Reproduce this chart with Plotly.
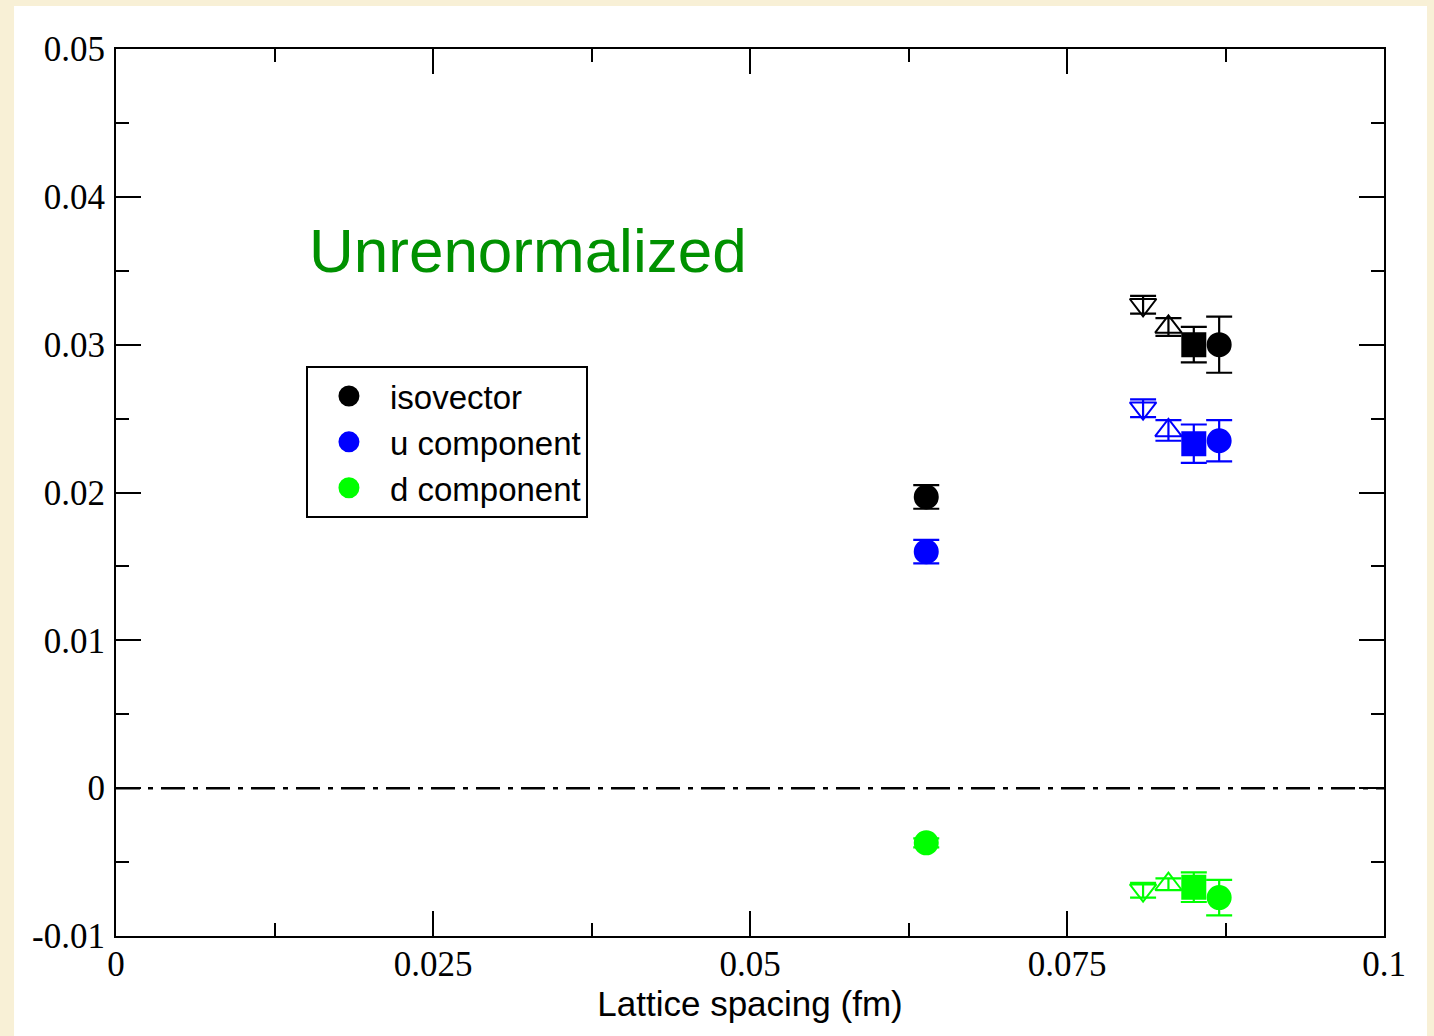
import plotly.graph_objects as go

# Lattice spacings (fm) of the ensembles and the symbol used for each
lattice_spacing = [0.0639, 0.0810, 0.0830, 0.0850, 0.0870]
ensemble_symbols = ["circle", "triangle-down-open", "triangle-up-open", "square", "circle"]

# Unrenormalized values with statistical errors
isovector = [0.0197, 0.0327, 0.0312, 0.0300, 0.0300]
isovector_err = [0.0008, 0.0006, 0.0006, 0.0012, 0.0019]

u_component = [0.0160, 0.0257, 0.0242, 0.0233, 0.0235]
u_component_err = [0.0008, 0.0006, 0.0007, 0.0013, 0.0014]

d_component = [-0.0037, -0.0069, -0.0065, -0.0067, -0.0074]
d_component_err = [0.0003, 0.0005, 0.0004, 0.0010, 0.0012]

series = [
    ("isovector", isovector, isovector_err, "#000000"),
    ("u component", u_component, u_component_err, "#0000ff"),
    ("d component", d_component, d_component_err, "#00ff00"),
]

x_range = [0, 0.1]
y_range = [-0.01, 0.05]

fig = go.Figure()

for name, vals, errs, color in series:
    fig.add_trace(go.Scatter(
        x=lattice_spacing,
        y=vals,
        mode="markers",
        name=name,
        showlegend=False,
        marker=dict(symbol=ensemble_symbols, size=23, color=color,
                    line=dict(color=color, width=2)),
        error_y=dict(type="data", array=errs, visible=True,
                     color=color, thickness=2.2, width=13),
    ))

# Legend keys: filled circles with a thick rim so they read at full size
for name, _, _, color in series:
    fig.add_trace(go.Scatter(
        x=[None], y=[None], mode="markers", name=name, showlegend=True,
        marker=dict(symbol="circle", size=16, color=color,
                    line=dict(color=color, width=5)),
    ))

# Dash-dot reference line at zero
fig.add_shape(type="line", xref="paper", x0=0, x1=1, yref="y", y0=0, y1=0,
              line=dict(color="black", width=2.5, dash="24px,8px,5px,8px"))

# White panel over the cream page
fig.add_shape(type="rect", xref="paper", yref="paper",
              x0=-0.0804, x1=1.0339, y0=-0.13, y1=1.0485,
              fillcolor="white", line=dict(width=0), layer="below")

fig.add_annotation(text="Unrenormalized", x=0.0151, y=0.0364, xref="x", yref="y",
                   xanchor="left", yanchor="middle", showarrow=False,
                   font=dict(family="Liberation Sans, Arial, sans-serif",
                             size=62, color="rgb(0,145,0)"))

axis_common = dict(
    showline=True, linecolor="black", linewidth=2, mirror="ticks",
    ticks="inside", ticklen=25, tickwidth=2, tickcolor="black",
    showgrid=False, zeroline=False,
    tickfont=dict(family="Liberation Serif, Times New Roman, serif", size=35, color="black"),
)

fig.update_xaxes(
    range=x_range, tickvals=[0, 0.025, 0.05, 0.075, 0.1],
    ticktext=["0", "0.025", "0.05", "0.075", "0.1"],
    minor=dict(ticks="inside", ticklen=13, tickwidth=2, tickcolor="black", dtick=0.0125, tick0=0),
    title=dict(text="Lattice spacing (fm)", standoff=0,
               font=dict(family="Liberation Sans, Arial, sans-serif", size=35, color="black")),
    ticklabelstandoff=-4,
    **axis_common,
)
fig.update_yaxes(
    range=y_range, tickvals=[-0.01, 0, 0.01, 0.02, 0.03, 0.04, 0.05],
    ticktext=["-0.01", "0", "0.01", "0.02", "0.03", "0.04", "0.05"],
    minor=dict(ticks="inside", ticklen=13, tickwidth=2, tickcolor="black", dtick=0.005, tick0=0),
    ticklabelstandoff=2,
    **axis_common,
)

fig.update_layout(
    width=1434, height=1036,
    margin=dict(l=116, r=50, t=49, b=100, autoexpand=False),
    paper_bgcolor="#f8f0d6",
    plot_bgcolor="white",
    showlegend=True,
    legend=dict(x=0.1498, y=0.6426, xanchor="left", yanchor="top",
                bgcolor="white", bordercolor="black", borderwidth=2,
                font=dict(family="Liberation Sans, Arial, sans-serif", size=33, color="black"),
                itemsizing="trace", itemwidth=72, tracegroupgap=0,
                entrywidth=300, entrywidthmode="pixels"),
)

fig.write_html("out.html")
